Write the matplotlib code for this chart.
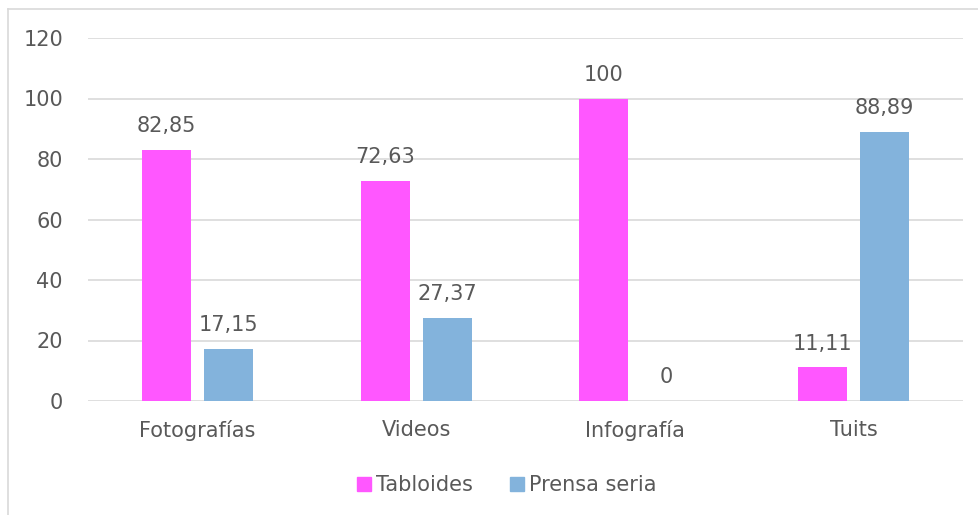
import matplotlib
matplotlib.use("Agg")
import matplotlib.pyplot as plt
import numpy as np
from matplotlib.lines import Line2D

categories = ["Fotografías", "Videos", "Infografía", "Tuits"]
tabloides = [82.85, 72.63, 100, 11.11]
prensa_seria = [17.15, 27.37, 0, 88.89]
tab_labels = ["82,85", "72,63", "100", "11,11"]
pre_labels = ["17,15", "27,37", "0", "88,89"]
yticks = [0, 20, 40, 60, 80, 100, 120]

plt.rcParams['font.family'] = ['DejaVu Sans']
txt = '#595959'
pink = '#FF57FF'
blue = '#83B3DC'
fs = 15

fig = plt.figure(figsize=(9.79, 5.15), dpi=100)
ax = fig.add_axes([88/979, 1-401/515, (963-88)/979, (401-38)/515])

x = np.arange(len(categories))
w = 0.224
off = 0.142
b1 = ax.bar(x - off, tabloides, w, color=pink, label='Tabloides', zorder=3)
b2 = ax.bar(x + off, prensa_seria, w, color=blue, label='Prensa seria', zorder=3)

for bars, labs in ((b1, tab_labels), (b2, pre_labels)):
    for r, lab in zip(bars, labs):
        ax.annotate(lab, (r.get_x() + r.get_width()/2, r.get_height()),
                    xytext=(0, 10), textcoords='offset points', ha='center', va='bottom',
                    fontsize=fs, color=txt)

ax.set_xlim(-0.5, len(categories) - 0.5)
ax.set_ylim(0, 120)
ax.set_yticks(yticks)
ax.set_xticks(x)
ax.set_xticklabels(categories)
ax.tick_params(axis='both', length=0, labelsize=fs, labelcolor=txt)
ax.tick_params(axis='y', pad=18)
ax.tick_params(axis='x', pad=14)
ax.grid(axis='y', color='#D9D9D9', linewidth=1.2, zorder=0)
for s in ax.spines.values():
    s.set_visible(False)

handles = [Line2D([], [], marker='s', linestyle='none', markersize=10, color=pink),
           Line2D([], [], marker='s', linestyle='none', markersize=10, color=blue)]
fig.legend(handles, ['Tabloides', 'Prensa seria'], loc='center', bbox_to_anchor=(505/979, 1-485/515),
           ncol=2, frameon=False, fontsize=fs, labelcolor=txt, handletextpad=0.1,
           columnspacing=1.6, handlelength=1.0)

# outer border
fig.add_artist(Line2D([8/979, 8/979], [0, 1-9/515], color='#D9D9D9', linewidth=1.2, transform=fig.transFigure))
fig.add_artist(Line2D([8/979, 1], [1-9/515, 1-9/515], color='#D9D9D9', linewidth=1.2, transform=fig.transFigure))

fig.savefig('out.png', dpi=100, facecolor='white')
